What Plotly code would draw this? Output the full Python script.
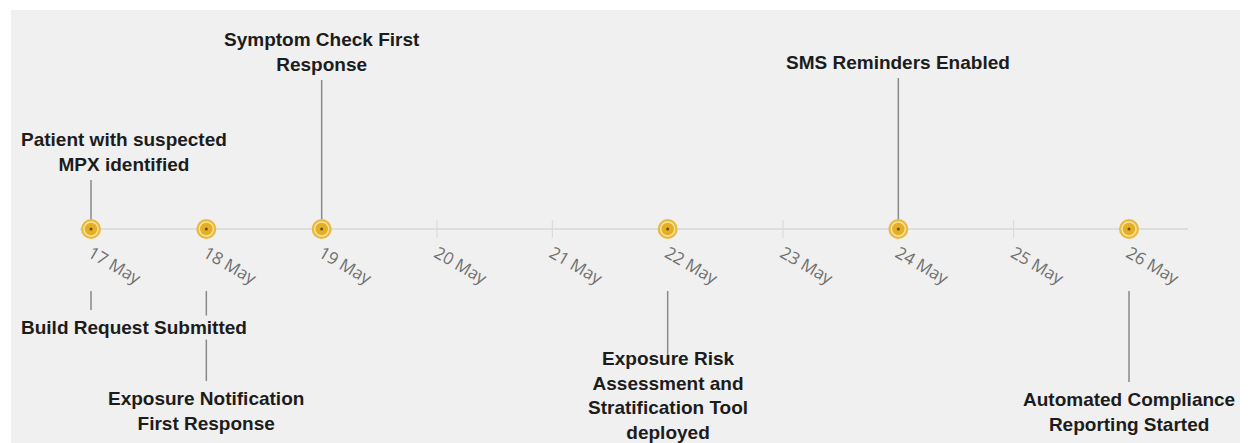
import plotly.graph_objects as go
from datetime import datetime, timedelta

# ---- data ----
event_dates = ["2022-05-17", "2022-05-17", "2022-05-18", "2022-05-19",
               "2022-05-22", "2022-05-24", "2022-05-26"]
event_labels = [
    "Patient with suspected<br>MPX identified",
    "Build Request Submitted",
    "Exposure Notification<br>First Response",
    "Symptom Check First<br>Response",
    "Exposure Risk<br>Assessment and<br>Stratification Tool<br>deployed",
    "SMS Reminders Enabled",
    "Automated Compliance<br>Reporting Started",
]
event_levels = [49, -81, -152, 149, -131, 151, -153]
tick_start = "2022-05-17"
tick_end = "2022-05-26"

# ---- geometry (px-like y units) ----
Y_TOP, Y_BOT = 219, -214
BELOW_START = -62
PX_PER_DAY = 115.33
LINE_H = 24.4
CHAR_W = 10.4
EDGE_PAD = 8

d0 = datetime.fromisoformat(tick_start)
d1 = datetime.fromisoformat(tick_end)
left_days = 80 / PX_PER_DAY
x_range = [d0 - timedelta(days=left_days), d1 + timedelta(days=119 / PX_PER_DAY)]
base_x = [d0 - timedelta(days=11 / PX_PER_DAY), d1 + timedelta(days=59 / PX_PER_DAY)]

fig = go.Figure()

# baseline
fig.add_trace(go.Scatter(x=base_x, y=[0, 0], mode="lines",
                         line=dict(color="#dedede", width=2), hoverinfo="skip", showlegend=False))

# day ticks crossing the baseline
tick_days = [d0 + timedelta(days=i) for i in range((d1 - d0).days + 1)]
fig.add_trace(go.Scatter(x=tick_days, y=[0] * len(tick_days), mode="markers",
                         marker=dict(symbol="line-ns", size=13, line=dict(width=1, color="#d8d8d8")),
                         hoverinfo="skip", showlegend=False))

# stems
for d, lv in zip(event_dates, event_levels):
    y0 = 0 if lv > 0 else BELOW_START
    fig.add_trace(go.Scatter(x=[d, d], y=[y0, lv], mode="lines",
                             line=dict(color="#8a8a8a", width=1.5),
                             hoverinfo="skip", showlegend=False))

# markers
uniq = sorted(set(event_dates))
fig.add_trace(go.Scatter(x=uniq, y=[0] * len(uniq), mode="markers",
                         marker=dict(size=20, color="#eab93f", line=dict(width=0)),
                         hoverinfo="skip", showlegend=False))
fig.add_trace(go.Scatter(x=uniq, y=[0] * len(uniq), mode="markers",
                         marker=dict(size=14, color="#e4ae26", line=dict(width=1.5, color="#f8e39a")),
                         hoverinfo="skip", showlegend=False))
fig.add_trace(go.Scatter(x=uniq, y=[0] * len(uniq), mode="markers",
                         marker=dict(size=3, color="#6d4f0a"),
                         hoverinfo="skip", showlegend=False))

# labels
label_font = dict(family="Liberation Sans, Arial", size=19, color="#1c1c1c", weight="bold")
for d, lab, lv in zip(event_dates, event_labels, event_levels):
    lines = lab.split("<br>")
    nlines = len(lines)
    est_w = max(len(s) for s in lines) * CHAR_W
    dist_left = ((datetime.fromisoformat(d) - x_range[0]).total_seconds() / 86400) * PX_PER_DAY
    xkw = dict(x=d, xanchor="center")
    if dist_left - est_w / 2 < EDGE_PAD:
        xkw = dict(x=x_range[0], xanchor="left", xshift=EDGE_PAD)
    if lv > 0:
        fig.add_annotation(**xkw, y=lv, text=lab, showarrow=False, yanchor="bottom",
                           yshift=3, font=label_font, bgcolor="rgba(0,0,0,0)")
    else:
        top = lv - 5
        h = nlines * LINE_H
        if top - h < Y_BOT - 1:
            top = Y_BOT - 1 + h
        fig.add_annotation(**xkw, y=top, text=lab, showarrow=False, yanchor="top",
                           font=label_font,
                           bgcolor="#f0f0f0" if nlines < 3 else "rgba(0,0,0,0)")

fig.update_layout(
    width=1240, height=435,
    margin=dict(l=3, r=0, t=2, b=0),
    paper_bgcolor="#ffffff", plot_bgcolor="#f0f0f0",
    showlegend=False,
    xaxis=dict(type="date", range=x_range, anchor="free",
               position=(0 - Y_BOT) / (Y_TOP - Y_BOT),
               tick0=tick_start, dtick=86400000, tickformat="%d %b",
               tickangle=30, ticks="outside", ticklen=7, tickcolor="rgba(0,0,0,0)",
               ticklabelstandoff=0,
               tickfont=dict(family="Open Sans", size=17, color="#6f6f6f"),
               showgrid=False, zeroline=False, showline=False),
    yaxis=dict(range=[Y_BOT, Y_TOP], visible=False, showgrid=False, zeroline=False),
)

fig.write_html("out.html")
